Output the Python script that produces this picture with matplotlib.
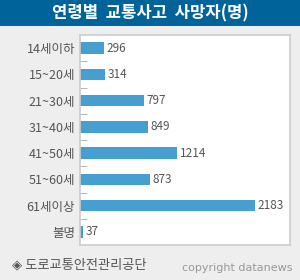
import matplotlib.pyplot as plt
from matplotlib.patches import Rectangle

plt.rcParams['font.family'] = ['Noto Sans CJK KR', 'DejaVu Sans']

age_groups = ['14세이하', '15~20세', '21~30세', '31~40세', '41~50세', '51~60세', '61세이상', '불명']
deaths = [296, 314, 797, 849, 1214, 873, 2183, 37]

fig = plt.figure(figsize=(3.0, 2.8), dpi=100)
fig.patch.set_facecolor('#eeeeee')

# title band
fig.patches.append(Rectangle((0, 1 - 26 / 280), 1, 26 / 280, transform=fig.transFigure,
                             facecolor='#00649b', edgecolor='none', zorder=0))
fig.text(0.5, 1 - 13 / 280, '연령별  교통사고  사망자(명)', color='white', fontsize=12,
         fontweight='bold', ha='center', va='center')

ax = fig.add_axes([80 / 300, 35 / 280, 210 / 300, 210 / 280])
ax.set_facecolor('white')
pos = list(range(len(age_groups)))
ax.barh(pos, deaths, height=0.43, color='#469fd0')
for p, v in zip(pos, deaths):
    ax.text(v + 35, p, str(v), va='center', ha='left', fontsize=8.5, color='#555555')

ax.set_xlim(0, 2620)
ax.set_ylim(len(age_groups) - 0.5, -0.5)
ax.set_xticks([])
ax.set_yticks(pos)
ax.set_yticklabels(age_groups, fontsize=9, color='#555555')
ax.tick_params(axis='y', which='major', length=0, pad=3.5)
ax.set_yticks([p + 0.5 for p in pos[:-1]], minor=True)
ax.tick_params(axis='y', which='minor', direction='in', length=5, color='#aaaaaa')
for s in ax.spines.values():
    s.set_color('#cccccc')
    s.set_linewidth(1.2)

fig.text(12 / 300, 1 - 265 / 280, '◈ 도로교통안전관리공단', fontsize=9.5, color='#555555',
         ha='left', va='center')
fig.text(292 / 300, 1 - 268 / 280, 'copyright datanews', fontsize=8, color='#999999',
         ha='right', va='center', family='DejaVu Sans')

fig.savefig('out.png', dpi=100, facecolor=fig.get_facecolor())
